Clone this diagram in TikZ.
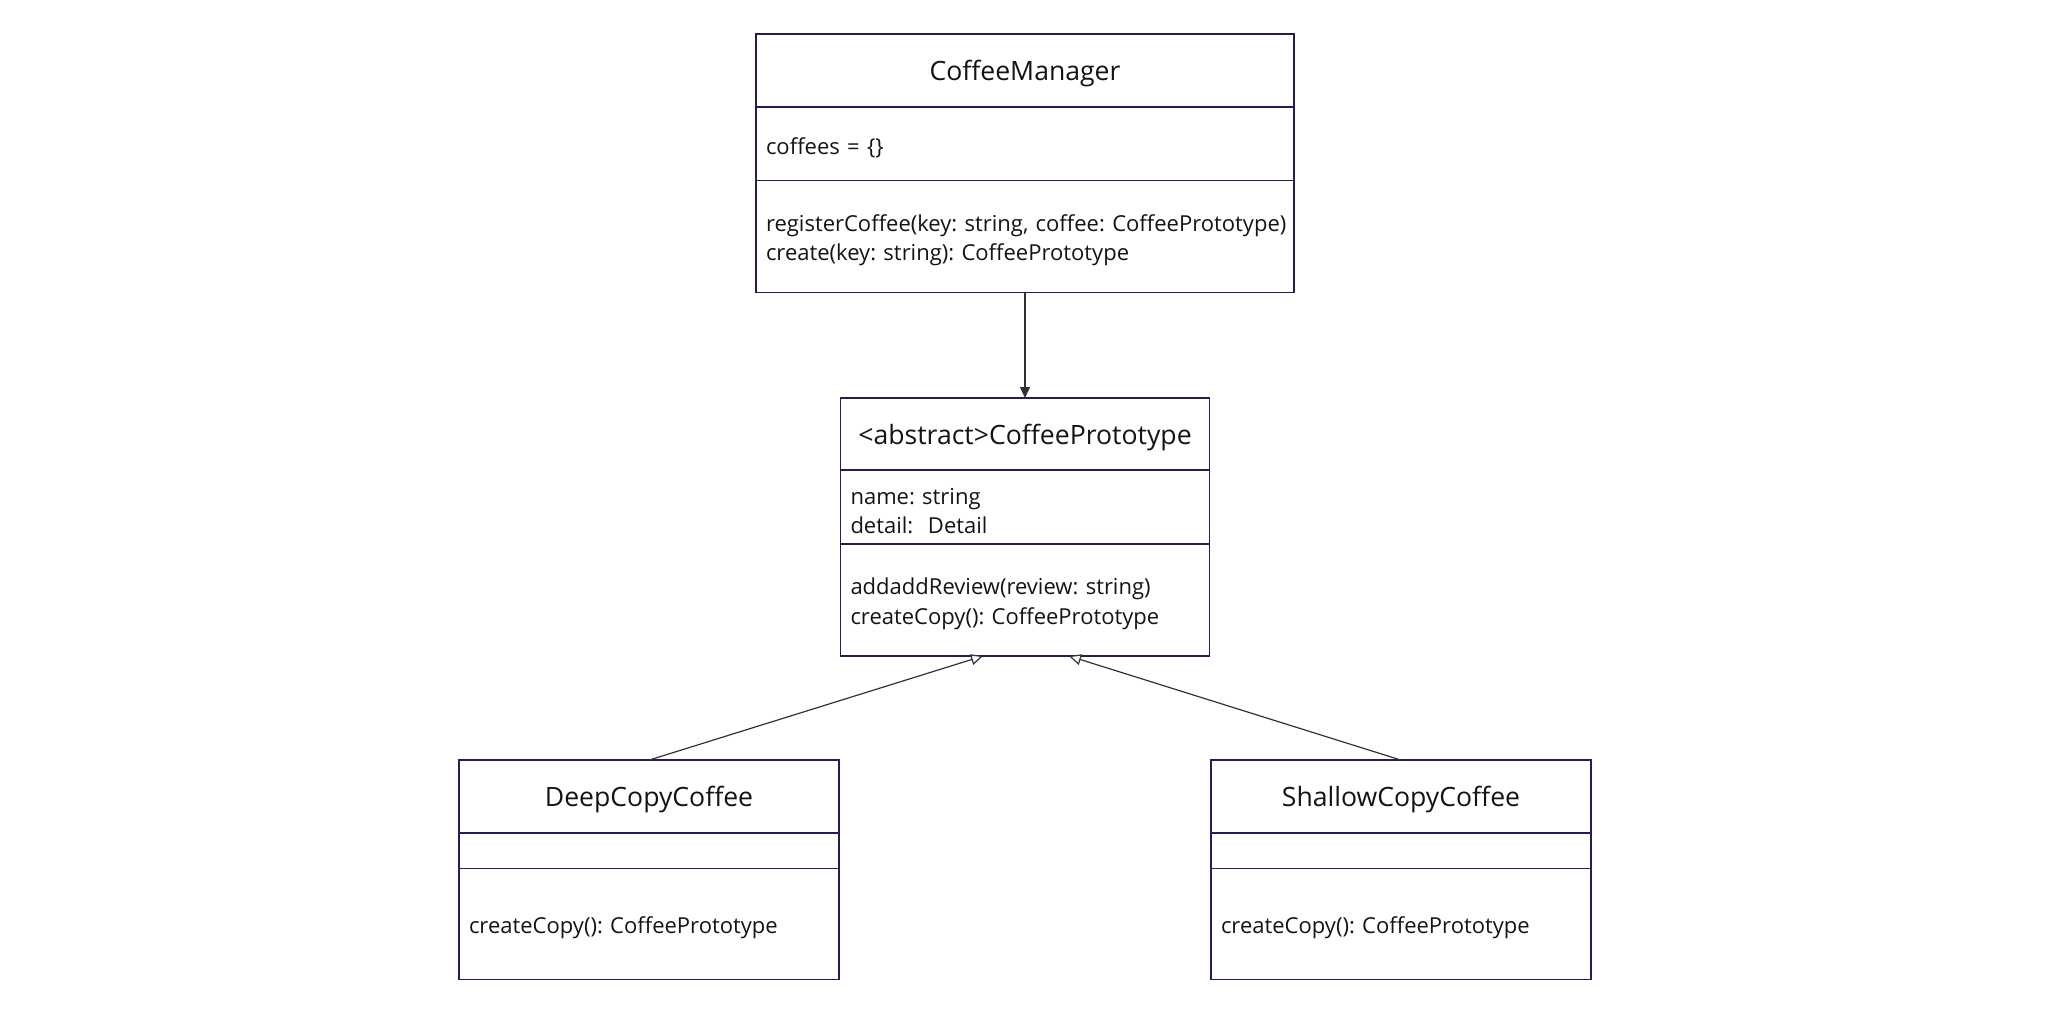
\documentclass[tikz,border=0pt]{standalone}
\usepackage{fontspec}
\setmainfont{Open Sans}
\usetikzlibrary{positioning,arrows.meta}

\definecolor{umlborder}{RGB}{38,28,88}
\definecolor{umlline}{RGB}{50,50,50}
\definecolor{umltext}{RGB}{20,20,20}

\tikzset{every picture/.style={line width=0.7pt}}
\tikzset{
  ttl/.style={draw=umlborder, text=umltext, outer sep=0pt, inner sep=0pt, text depth=0pt,
    font=\fontsize{13.3}{16}\selectfont},
  cmp/.style={draw=umlborder, text=umltext, outer sep=0pt, inner xsep=5pt, inner ysep=0pt,
    text width=#1, text height=12pt, align=left, font=\fontsize{11}{14.7}\selectfont\frenchspacing},
  assoc/.style={draw=umlline, line width=0.6pt, -{Triangle[length=5.5pt,width=5pt]}},
  inherit/.style={draw=umlline, line width=0.6pt, -{Triangle[open,length=6pt,width=5.5pt,fill=white]}}
}

\begin{document}
\begin{tikzpicture}[x=0.5pt,y=0.5pt,yscale=-1]
\useasboundingbox (0,0) rectangle (2066,1018);

%Class: CoffeeManager
\node[ttl, minimum width=269pt, minimum height=36.5pt] (mgrT) at (1025,70.5) {CoffeeManager};
\node[cmp=259pt, minimum height=36.75pt, below=0pt of mgrT] (mgrA) {coffees = \{\}};
\node[cmp=259pt, minimum height=56pt, below=0pt of mgrA] (mgrO)
  {\mbox{registerCoffee(key: string, coffee: CoffeePrototype)}\\create(key: string): CoffeePrototype};

%Class: CoffeePrototype
\node[ttl, minimum width=184.5pt, minimum height=36pt] (protoT) at (1025,434) {<abstract>CoffeePrototype};
\node[cmp=174.5pt, minimum height=37pt, below=0pt of protoT] (protoA) {name: string\\detail:\ \ Detail};
\node[cmp=174.5pt, minimum height=56pt, below=0pt of protoA] (protoO)
  {addaddReview(review: string)\\createCopy(): CoffeePrototype};

%Class: DeepCopyCoffee
\node[ttl, minimum width=190pt, minimum height=36.4pt] (deepT) at (649,796.5) {DeepCopyCoffee};
\node[cmp=180pt, minimum height=17.65pt, below=0pt of deepT, text height=0pt] (deepA) {};
\node[cmp=180pt, minimum height=55.5pt, below=0pt of deepA] (deepO) {createCopy(): CoffeePrototype};

%Class: ShallowCopyCoffee
\node[ttl, minimum width=190pt, minimum height=36.4pt] (shallowT) at (1401,796.5) {ShallowCopyCoffee};
\node[cmp=180pt, minimum height=17.65pt, below=0pt of shallowT, text height=0pt] (shallowA) {};
\node[cmp=180pt, minimum height=55.5pt, below=0pt of shallowA] (shallowO) {createCopy(): CoffeePrototype};

%Connectors
\draw[assoc] (mgrO) -- (protoT);
\draw[inherit] (deepT.north) -- ([xshift=-21pt]protoO.south);
\draw[inherit] (shallowT.north) -- ([xshift=22pt]protoO.south);

\end{tikzpicture}
\end{document}
